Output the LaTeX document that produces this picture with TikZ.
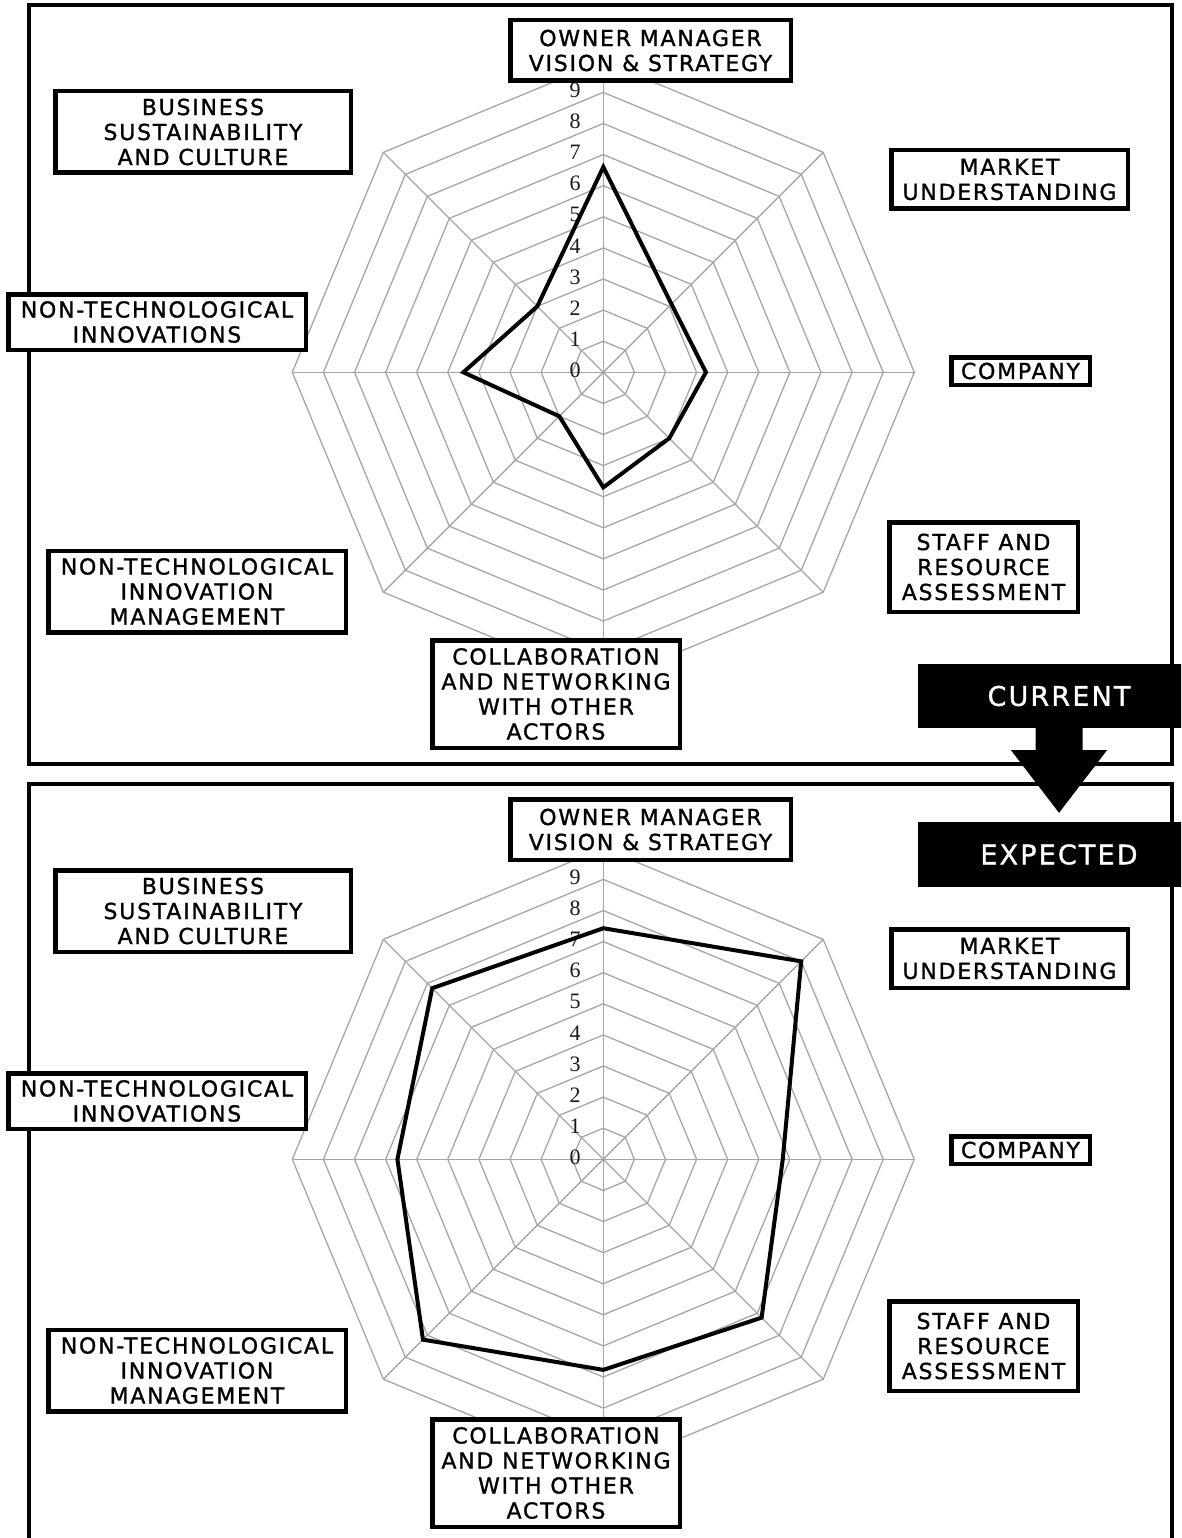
\documentclass[tikz,border=0pt]{standalone}
\usepackage{fontspec}
\newfontfamily\boxfont[LetterSpace=8,FakeBold=1.2]{DejaVu Sans}
\newfontfamily\numfont{Liberation Serif}
\usetikzlibrary{calc}

\newcommand{\unitr}{31.1}
% one radar panel: #1 prefix, #2 panel shift, #3 centre y, #4 values (N, then clockwise)
\newcommand{\radarpanel}[4]{%
  \begin{scope}[yshift=-#2pt]
    \begin{scope}[shift={(603.3,#3)}]
      \coordinate (#1c) at (0,0);
      % rings 1..10
      \foreach \k in {1,...,10}
        \draw[grid] (-90:\k*\unitr) \foreach \a in {-45,0,...,225} {-- (\a:\k*\unitr)} -- cycle;
      % spokes
      \foreach \a in {-90,-45,...,225}
        \draw[grid] (#1c) -- (\a:10*\unitr);
      \foreach \k in {0,...,9}
        \node[scalenum] at (-28.3,-\k*\unitr-2) {\k};
      \foreach \v [count=\i from 0] in {#4}
        \coordinate (#1p\i) at (-90+45*\i:\v*\unitr);
      \draw[dataline] (#1p0) \foreach \i in {1,...,7} {-- (#1p\i)} -- cycle;
    \end{scope}
    \node[axisbox, minimum width=280.5pt, minimum height=60.5pt] (#1owner) at (650.5,50.5) {OWNER MANAGER\\VISION \& STRATEGY};
    \node[axisbox, minimum width=295.5pt, minimum height=81.5pt] (#1business) at (203,132) {BUSINESS\\SUSTAINABILITY\\AND CULTURE};
    \node[axisbox, minimum width=236.5pt, minimum height=58.5pt] (#1market) at (1009.5,179.5) {MARKET\\UNDERSTANDING};
    \node[axisbox, minimum width=297.5pt, minimum height=55.5pt] (#1nti) at (157,322) {NON-TECHNOLOGICAL\\INNOVATIONS};
    \node[axisbox, minimum width=138.5pt, minimum height=27.5pt] (#1company) at (1020.5,371) {COMPANY};
    \node[axisbox, minimum width=297.5pt, minimum height=81.5pt] (#1ntim) at (197,591.5) {NON-TECHNOLOGICAL\\INNOVATION\\MANAGEMENT};
    \node[axisbox, minimum width=188.5pt, minimum height=89.5pt] (#1staff) at (983.5,567) {STAFF AND\\RESOURCE\\ASSESSMENT};
    \node[axisbox, minimum width=247.5pt, minimum height=107.5pt] (#1collab) at (556,694) {COLLABORATION\\AND NETWORKING\\WITH OTHER\\ACTORS};
  \end{scope}}

\begin{document}
\begin{tikzpicture}[
    x=1pt, y=-1pt,
    % web lines
    grid/.style={draw=black!35, line width=1.3pt},
    dataline/.style={draw=black, line width=4pt, line join=miter},
    scalenum/.style={font=\numfont\fontsize{22}{22}\selectfont, text=black!90, inner sep=0pt},
    axisbox/.style={draw, line width=4.5pt, fill=white, align=center, inner sep=2pt,
      font=\boxfont\fontsize{22}{25}\selectfont},
    panelframe/.style={draw, line width=4.5pt},
    banner/.style={fill=black, text=white, minimum width=282pt,
      font=\boxfont\fontsize{27}{30}\selectfont},
  ]
  \useasboundingbox (0,0) rectangle (1181,1538);
  \clip (0,0) rectangle (1181,1538);

  \draw[panelframe] (29,5) rectangle (1172,764);
  \draw[panelframe] (29,784) rectangle (1172,1580);

  \radarpanel{cur}{0}{372.3}{6.6,3.1,3.3,3.0,3.7,2.0,4.5,3.0}
  \radarpanel{exp}{779}{380.3}{7.43,9.0,5.77,7.2,6.77,8.2,6.62,7.78}

  \node[banner, minimum height=64pt] (current) at (1059,696) {CURRENT};
  \node[banner, minimum height=65pt] (expected) at (1059,854.5) {EXPECTED};
  \fill ($(current.south)+(-23.5,0)$) -- ($(current.south)+(23.5,0)$)
    -- ($(current.south)+(23.5,22)$) -- ($(current.south)+(48,22)$)
    -- ($(expected.north)+(0,-9)$)
    -- ($(current.south)+(-48,22)$) -- ($(current.south)+(-23.5,22)$) -- cycle;
\end{tikzpicture}
\end{document}
